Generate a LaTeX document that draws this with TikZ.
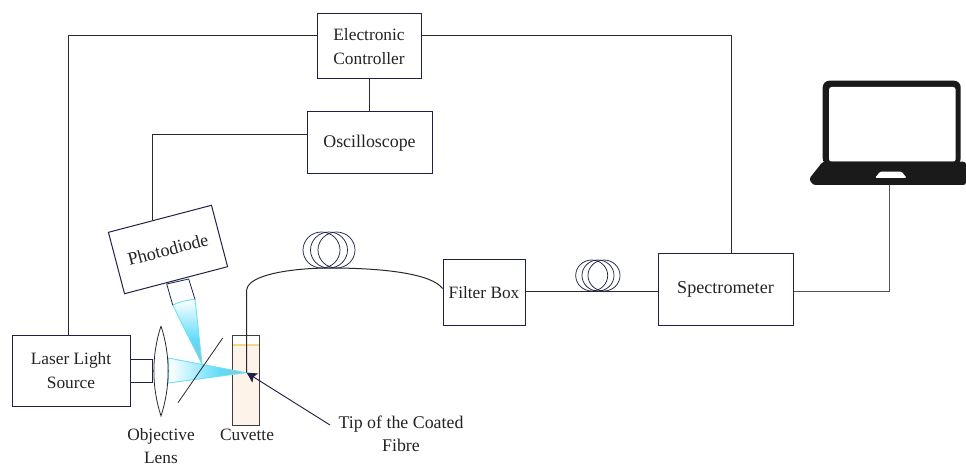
\documentclass[tikz,border=0pt]{standalone}
\usepackage{fontspec}
\setmainfont{Liberation Serif}
\usepackage{xcolor}
\usepackage{tikz}
\usetikzlibrary{arrows.meta, positioning, calc}
\definecolor{mynavy}{RGB}{30,35,70}
\definecolor{mywire}{RGB}{40,40,45}
\definecolor{mytext}{RGB}{35,35,35}
\definecolor{beamcyan}{RGB}{95,220,250}
\definecolor{beamedge}{RGB}{110,225,245}
\definecolor{beamtip}{RGB}{150,190,200}
\definecolor{hdrcream}{RGB}{253,243,232}
\definecolor{myyellow}{RGB}{245,215,140}
\definecolor{mylaptop}{RGB}{26,26,26}
\pgfdeclarehorizontalshading{beamh}{100bp}{color(0bp)=(white); color(26bp)=(white); color(58bp)=(beamcyan); color(75bp)=(beamtip); color(100bp)=(beamtip)}
\pgfdeclareverticalshading{beamv}{100bp}{color(0bp)=(beamtip); color(25bp)=(beamtip); color(44bp)=(beamcyan); color(75bp)=(white); color(100bp)=(white)}
\tikzset{
  box/.style={rectangle, draw=mynavy, inner sep=0pt, align=center,
    font=\fontsize{13}{17.5}\selectfont, text=mytext, line width=0.75pt},
  label/.style={align=center, inner sep=0pt,
    font=\fontsize{13}{17.5}\selectfont, text=mytext},
  wire/.style={color=mywire, line width=0.6pt},
  optic/.style={color=mynavy, line width=0.6pt},
  coil/.style={draw=mynavy, line width=0.55pt},
  beam/.style={draw=beamedge, line width=0.7pt, shade}
}

\begin{document}
\begin{tikzpicture}[x=0.75pt, y=-0.75pt]
  \useasboundingbox (0,0) rectangle (966,466);

  % Boxes
  \node[box, minimum width=78pt, minimum height=48.75pt] (ctrl) at (369,46.5) {Electronic\\Controller};
  \node[box, minimum width=93.75pt, minimum height=46.5pt, font=\fontsize{13.4}{17.5}\selectfont] (osc) at (369.5,143) {Oscilloscope};
  \node[box, minimum width=61.5pt, minimum height=48.75pt] (filter) at (484,292.5) {Filter Box};
  \node[box, minimum width=101.25pt, minimum height=53.25pt, font=\fontsize{13.6}{17.5}\selectfont] (spec) at (725.5,289.5) {Spectrometer};
  \node[box, minimum width=88.5pt, minimum height=53.25pt] (laser) at (71,370.5) {Laser Light\\Source};
  \node[box, minimum width=79.9pt, minimum height=47.6pt, rotate=14.7, font=\fontsize{13.6}{17.5}\selectfont] (pd) at (168,249.5) {Photodiode};
  \node[box, minimum width=17pt, minimum height=17.25pt, line width=0.6pt] (port) at (141.4,370.5) {};

  % Cuvette
  \node[rectangle, minimum width=20.1pt, minimum height=67pt, inner sep=0pt] (cuv) at (246,380.4) {};
  \coordinate (level) at (cuv.west |- 0,345);
  \fill[hdrcream] (level) rectangle (cuv.south east);
  \draw[myyellow, line width=0.8pt] (level) -- (level -| cuv.east);
  \draw[draw=mywire!90, line width=0.75pt] (cuv.north west) rectangle (cuv.south east);

  % Beams
  \coordinate (focus) at (246,372.7);
  \coordinate (mirror) at (202,364);
  \path[beam, shading=beamh]
    (168,358) -- (focus) -- (168,383) .. controls (169,375) and (169,366) .. cycle;
  \path[beam, shading=beamv]
    (172.7,305) .. controls (179,302) and (187,300) .. (195,299.3) -- (mirror) -- cycle;

  % Photodiode tube
  \draw[optic] (172.7,305) -- (166.7,284) -- (188.7,279) -- (195,299.3);

  % Lens and mirror
  \draw[color=mywire, line width=0.6pt] (161,326) .. controls (151.5,355) and (151.5,387) .. (161,416)
    .. controls (170.5,387) and (170.5,355) .. (161,326);
  \coordinate (mirrorA) at (178,402.7);
  \coordinate (mirrorB) at (222.7,338);
  \draw[wire] (mirrorA) -- (mirrorB);

  % Wires
  \draw[wire] ([yshift=8.6pt]ctrl.west) -| ([xshift=-1.7pt]laser.north);
  \draw[wire] ([yshift=8.6pt]ctrl.east) -| ([xshift=4.1pt]spec.north);
  \draw[wire] (ctrl.south) -- (ctrl.south |- osc.north);
  \coordinate (pdtop) at ($(pd.north west)!.43!(pd.north east)$);
  \draw[wire] ([yshift=6.75pt]osc.west) -| (pdtop);
  \draw[wire] ([yshift=1.1pt]filter.east) -- ([yshift=1.1pt]filter.east -| spec.west);
  \coordinate (notch) at (889,178);
  \draw[wire, color=mywire!80] ([yshift=-1.1pt]spec.east) -| (notch);

  % Fibre
  \coordinate (fibretip) at (246.7,372.7);
  \coordinate (fibretop) at (330,268);
  \draw[wire, line width=0.75pt] (fibretip) -- (246.7,290) .. controls (248,274) and (295,268) .. (fibretop)
    .. controls (385,268) and (432,274) .. ([yshift=3pt]filter.west);

  % Coils
  \foreach \cx in {321.5,329,336.5}
    \draw[coil] (\cx,250) ellipse [x radius=18.5, y radius=18];
  \foreach \cx in {591.7,598,604}
    \draw[coil] (\cx,275.5) ellipse [x radius=16, y radius=15.5];

  % Pointer
  \coordinate (tipend) at (330,425);
  \draw[-{Stealth[length=7.5pt, width=8pt, inset=1.5pt]}, color=mynavy, line width=0.7pt] (tipend) -- (fibretip);

  % Laptop
  \fill[mylaptop, rounded corners=5pt] (822.7,165) -- (822.7,80.7) -- (960.7,80.7) -- (960.7,165) -- cycle;
  \fill[white, rounded corners=2pt] (829,161.7) -- (829,87) -- (955.7,87) -- (955.7,161.7) -- cycle;
  \fill[mylaptop, rounded corners=2pt] (822.7,161.7) -- (809,179) -- (813,185) -- (966,185) -- (966,161.7) -- cycle;
  \fill[white, rounded corners=1pt] (875,178) -- (880,171.7) -- (901.7,171.7) -- (906.7,178) -- cycle;

  % Labels
  \node[label, font=\fontsize{13}{17}\selectfont] (lenslabel) at (161,446) {Objective\\Lens};
  \node[label] (cuvlabel) at (247,435) {Cuvette};
  \node[label, font=\fontsize{13.4}{17.5}\selectfont] (tiplabel) at (401,434) {Tip of the Coated\\Fibre};
\end{tikzpicture}
\end{document}
